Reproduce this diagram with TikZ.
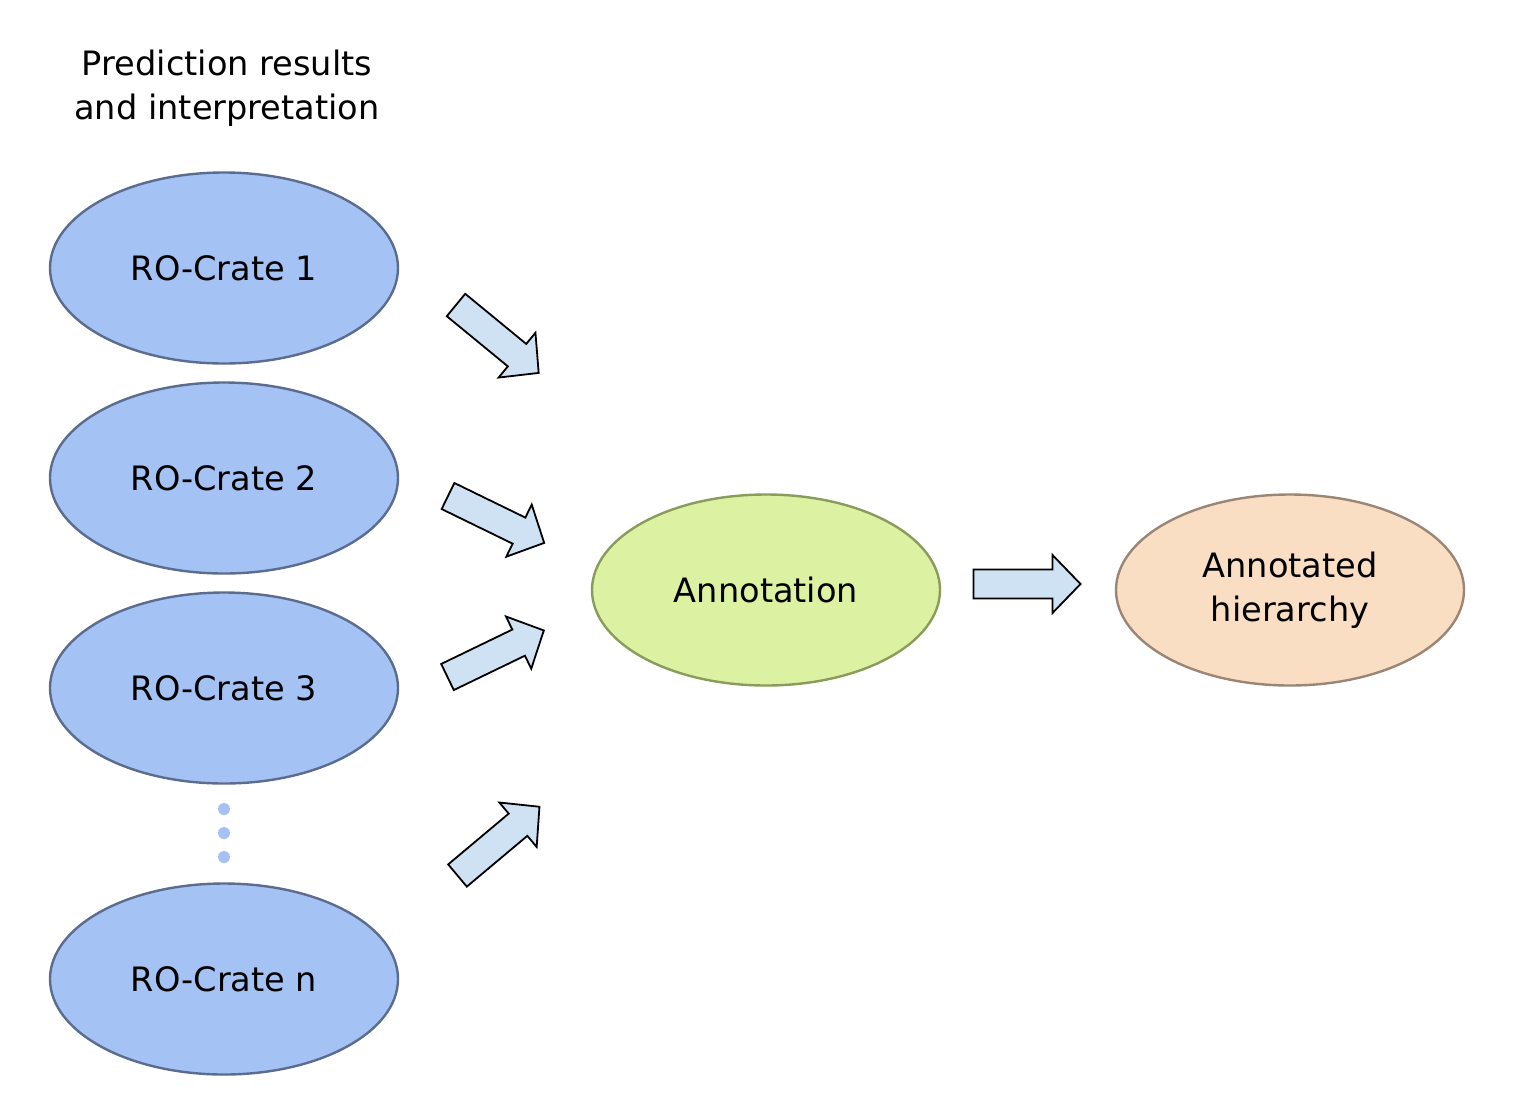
\documentclass[tikz,border=0pt]{standalone}
\usepackage{fontspec}
\setmainfont{DejaVu Sans}
\usetikzlibrary{shapes.geometric}
\definecolor{crateFill}{HTML}{A4C2F4}
\definecolor{crateLine}{HTML}{5B6C8F}
\definecolor{annFill}{HTML}{DDF1A3}
\definecolor{annLine}{HTML}{8A9B5C}
\definecolor{hierFill}{HTML}{FADEC4}
\definecolor{hierLine}{HTML}{9A8676}
\definecolor{arrFill}{HTML}{CFE2F3}
\tikzset{
  lbl/.style={font=\fontsize{16.8}{21.8}\selectfont, align=center, text=black},
  blob/.style={ellipse, minimum width=174pt, minimum height=95.5pt, line width=1.2pt, inner sep=0pt, lbl},
  crate/.style={blob, draw=crateLine, fill=crateFill},
  annot/.style={blob, draw=annLine, fill=annFill},
  hier/.style={blob, draw=hierLine, fill=hierFill},
  barrow/.style={draw=black, fill=arrFill, line width=0.9pt, line join=miter},
  dotmark/.style={circle, fill=crateFill, minimum size=6pt, inner sep=0pt}
}
\newcommand\blockarrow[3]{%
  \draw[barrow, shift={(#1,#2)}, rotate=#3]
    (0,-14.5) -- (79,-14.5) -- (79,-29) -- (107,0) -- (79,29) -- (79,14.5) -- (0,14.5) -- cycle;}
\begin{document}
\begin{tikzpicture}[x=0.5pt, y=-0.5pt]
\useasboundingbox (0,0) rectangle (1514,1115);
\node[lbl] (title) at (227,88) {Prediction results\\and interpretation};
\node[crate] (c1) at (224,268) {RO-Crate 1};
\node[crate] (c2) at (224,478) {RO-Crate 2};
\node[crate] (c3) at (224,688) {RO-Crate 3};
\node[crate] (cn) at (224,979) {RO-Crate n};
\node[dotmark] (d1) at (224,809) {};
\node[dotmark] (d2) at (224,833) {};
\node[dotmark] (d3) at (224,857) {};
\node[annot] (ann) at (766,590) {Annotation};
\node[hier] (hier) at (1290,590) {Annotated\\hierarchy};
\blockarrow{456}{305}{-39.4}
\blockarrow{448}{496}{-26}
\blockarrow{447.5}{677}{25.8}
\blockarrow{457.5}{875.5}{40}
\blockarrow{973.5}{584}{0}
\end{tikzpicture}
\end{document}
